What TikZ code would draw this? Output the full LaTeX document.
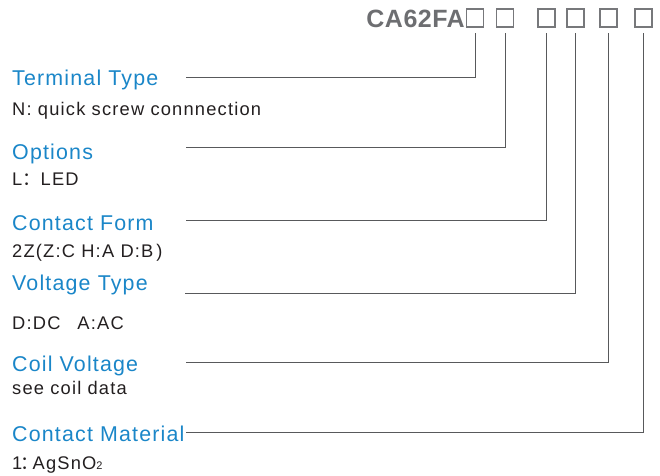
\documentclass[tikz,border=0pt]{standalone}
\usepackage{fontspec}
\setmainfont{Liberation Sans}
\newfontfamily\cjkf{Noto Sans CJK SC}
\definecolor{ttblue}{HTML}{1A86C8}
\definecolor{txtblack}{HTML}{231F20}
\definecolor{codegrey}{HTML}{6D6E71}
\definecolor{boxgrey}{HTML}{77787B}
\definecolor{linegrey}{HTML}{58595B}
\begin{document}
\begin{tikzpicture}[x=1pt,y=-1pt,
  title/.style={anchor=base west, inner sep=0pt, text=ttblue,
    font=\fontsize{21.4}{21.4}\selectfont\addfontfeature{LetterSpace=5.5}},
  desc/.style={anchor=base west, inner sep=0pt, text=txtblack,
    font=\fontsize{18.3}{18.3}\selectfont\addfontfeature{LetterSpace=6.5}},
  slot/.style={draw=boxgrey, line width=1.1pt, minimum width=17pt,
    minimum height=18pt, inner sep=0pt},
  lead/.style={draw=linegrey, line width=1pt}]
\useasboundingbox (0,0) rectangle (660,475);

% part number
\node[anchor=base east, inner sep=0pt, text=codegrey,
  font=\fontsize{25}{25}\selectfont\bfseries\addfontfeature{LetterSpace=2}] (code) at (465,27) {CA62FA};
\node[slot] (b1) at (475,18) {};
\node[slot] (b2) at (505,18) {};
\node[slot] (b3) at (546.5,18) {};
\node[slot] (b4) at (575.5,18) {};
\node[slot] (b5) at (608.5,18) {};
\node[slot] (b6) at (643.5,18) {};

% titles
\node[title] (t1) at (12,85.7) {Terminal Type};
\node[title] (t2) at (12,159) {Options};
\node[title] (t3) at (12,230) {Contact Form};
\node[title] (t4) at (12,290.7) {Voltage Type};
\node[title] (t5) at (12,371) {Coil Voltage};
\node[title] (t6) at (12,441.7) {Contact Material};

% descriptions
\node[desc] (d1) at (12,115) {N: quick screw connnection};
\node[desc] (d2) at (12,185) {L{\cjkf ：}LED};
\node[desc] (d3) at (12,257.7) {2Z(Z:C H:A D:B\,)};
\node[desc] (d4) at (12,329.3) {D:DC\hspace{17pt}A:AC};
\node[desc] (d5) at (12,394.3) {see coil data};
\node[desc] (d6) at (12,469.3) {1{\cjkf\hspace{-2pt}：\hspace{-6pt}}AgSnO{\fontsize{11}{11}\selectfont 2}};

% leader starts
\coordinate (h1) at (186,77.7);
\coordinate (h2) at (186,147.7);
\coordinate (h3) at (186,220);
\coordinate (h4) at (185,293.3);
\coordinate (h5) at (186,362.7);
\coordinate (h6) at (186,432.3);

\draw[lead] (h1) -| ([yshift=-5pt]b1.south);
\draw[lead] (h2) -| ([yshift=-5pt]b2.south);
\draw[lead] (h3) -| ([yshift=-5pt]b3.south);
\draw[lead] (h4) -| ([yshift=-5pt]b4.south);
\draw[lead] (h5) -| ([yshift=-5pt]b5.south);
\draw[lead] (h6) -| ([yshift=-5pt]b6.south);
\end{tikzpicture}
\end{document}
